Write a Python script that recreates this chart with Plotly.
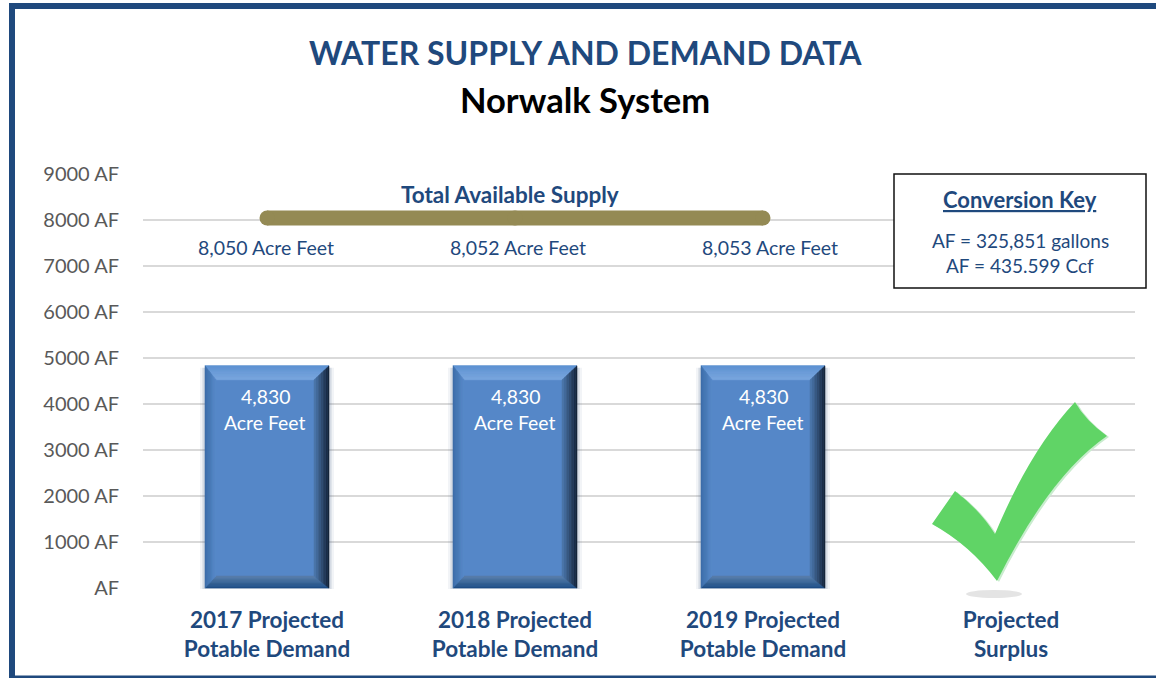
import plotly.graph_objects as go

categories = ["2017 Projected<br>Potable Demand", "2018 Projected<br>Potable Demand",
              "2019 Projected<br>Potable Demand", "Projected<br>Surplus"]
demand = [4830, 4830, 4830, None]
demand_labels = ["4,830<br>Acre Feet", "4,830<br>Acre Feet", "4,830<br>Acre Feet", ""]
supply = [8043, 8043, 8043]
supply_labels = ["8,050 Acre Feet", "8,052 Acre Feet", "8,053 Acre Feet"]
tick_values = [0, 1000, 2000, 3000, 4000, 5000, 6000, 7000, 8000, 9000]
tick_labels = ["AF", "1000 AF", "2000 AF", "3000 AF", "4000 AF", "5000 AF",
               "6000 AF", "7000 AF", "8000 AF", "9000 AF"]

W, H = 1156, 678
L, R, T, B = 143, 1135, 174, 588
FONT = "Lato"
NAVY = "#1f497d"


def pxx(x):
    return (x - L) / (R - L)


def pxy(y):
    return 1 - (y - T) / (B - T)


def mix(a, b, t):
    a = [int(a[i:i + 2], 16) for i in (1, 3, 5)]
    b = [int(b[i:i + 2], 16) for i in (1, 3, 5)]
    return "#%02x%02x%02x" % tuple(round(p + (q - p) * t) for p, q in zip(a, b))


def poly(points, color):
    d = "M" + " L".join(f"{pxx(x):.5f},{pxy(y):.5f}" for x, y in points) + " Z"
    return dict(type="path", xref="paper", yref="paper", path=d, fillcolor=color,
                line=dict(width=0.5, color=color), layer="above")


shapes = []
unit_x = (R - L) / len(categories)
unit_y = (B - T) / 9000
for i, v in enumerate(demand):
    if v is None:
        continue
    cx = L + unit_x * (i + 0.5)
    x0, x1 = cx - 62, cx + 62
    y0, y1 = B - v * unit_y, B
    # soft side shadow
    for grow, alpha in ((5, 0.07), (3, 0.10), (1.5, 0.14)):
        shapes.append(dict(type="rect", xref="paper", yref="paper", x0=pxx(x0 - grow), x1=pxx(x1 + grow),
                           y0=pxy(y1 + 1), y1=pxy(y0 + 2), fillcolor=f"rgba(70,100,140,{alpha})",
                           line=dict(width=0), layer="above"))
    shapes.append(dict(type="rect", xref="paper", yref="paper", x0=pxx(x0), x1=pxx(x1),
                       y0=pxy(y1), y1=pxy(y0), fillcolor="#5587c8",
                       line=dict(width=0), layer="above"))
    n = 9
    li, ri, ti, bi = 11, 15, 14, 12
    sides = {
        "top": ("#5f93d3", "#7ea9e0"),
        "left": ("#3d6ea8", "#5a8ccc"),
        "right": ("#15243a", "#527fb6"),
        "bot": ("#1f4f86", "#5f83ad"),
    }
    for k in range(n):
        a, b = k / n, (k + 1) / n
        o = (x0 + li * a, y0 + ti * a, x1 - ri * a, y1 - bi * a)
        m = (x0 + li * b, y0 + ti * b, x1 - ri * b, y1 - bi * b)
        shapes.append(poly([(o[0], o[1]), (o[2], o[1]), (m[2], m[1]), (m[0], m[1])],
                           mix(*sides["top"], a)))
        shapes.append(poly([(o[0], o[3]), (o[2], o[3]), (m[2], m[3]), (m[0], m[3])],
                           mix(*sides["bot"], a)))
        shapes.append(poly([(o[0], o[1]), (m[0], m[1]), (m[0], m[3]), (o[0], o[3])],
                           mix(*sides["left"], a)))
        shapes.append(poly([(o[2], o[1]), (m[2], m[1]), (m[2], m[3]), (o[2], o[3])],
                           mix(*sides["right"], a)))


def check(dx=0, dy=0):
    pts = [(932, 524), (955, 491), (980, 510), (995, 534), (1030, 450), (1075, 402),
           (1085, 420), (1107, 436), (1050, 475), (997, 581), (970, 545), (932, 524)]
    p = [f"{pxx(x + dx):.5f},{pxy(y + dy):.5f}" for x, y in pts]
    return (f"M{p[0]} L{p[1]} Q{p[2]} {p[3]} Q{p[4]} {p[5]} Q{p[6]} {p[7]} "
            f"Q{p[8]} {p[9]} Q{p[10]} {p[11]} Z")


shapes += [
    dict(type="circle", xref="paper", yref="paper", x0=pxx(966), x1=pxx(1022),
         y0=pxy(598), y1=pxy(590), fillcolor="#e4e4e4", line=dict(width=0), layer="above"),
    dict(type="path", xref="paper", yref="paper", path=check(2, 1), fillcolor="#c9ecce",
         line=dict(width=0), layer="above"),
    dict(type="path", xref="paper", yref="paper", path=check(), fillcolor="#60d466",
         line=dict(width=0), layer="above"),
    # key box
    dict(type="rect", xref="paper", yref="paper", x0=pxx(894), x1=pxx(1146), y0=pxy(288), y1=pxy(174),
         fillcolor="white", line=dict(color="#111111", width=1.5), layer="above"),
    # outer frame
    dict(type="path", xref="paper", yref="paper",
         path=f"M{pxx(12)},{pxy(680)} L{pxx(12)},{pxy(6)} L{pxx(1160)},{pxy(6)}",
         line=dict(color=NAVY, width=6), layer="above"),
    dict(type="line", xref="paper", yref="paper", x0=pxx(9), x1=pxx(1160), y0=pxy(677), y1=pxy(677),
         line=dict(color=NAVY, width=3), layer="above"),
]


def note(x, y, text, size, color=NAVY, bold=False):
    if bold:
        text = f"<b>{text}</b>"
    return dict(xref="paper", yref="paper", x=pxx(x), y=pxy(y), text=text, showarrow=False,
                xanchor="center", yanchor="middle", align="center",
                font=dict(family=FONT, size=size, color=color))


annotations = [
    note(585, 52, "WATER SUPPLY AND DEMAND DATA", 32, bold=True),
    note(585, 99, "Norwalk System", 34.5, color="#000000", bold=True),
    note(510, 194, "Total Available Supply", 22.5, bold=True),
    note(1020, 199, "<u>Conversion Key</u>", 22, bold=True),
    note(1020, 240, "AF = 325,851 gallons", 19),
    note(1020, 265, "AF = 435.599 Ccf", 19),
]
for i, (lab, xp) in enumerate(zip(supply_labels, (266, 518, 770))):
    annotations.append(note(xp, 247, lab, 19.5))

fig = go.Figure()
fig.add_trace(go.Bar(x=categories, y=demand, width=0.5, marker=dict(color="#5587c8", line=dict(width=0)),
                     text=demand_labels, textposition="none", hoverinfo="skip", showlegend=False))
fig.add_trace(go.Scatter(x=categories[:3], y=supply, mode="lines+markers",
                         line=dict(color="#948a54", width=15),
                         marker=dict(color="#948a54", size=15), showlegend=False, hoverinfo="skip"))
for cat, v, lab, sh in zip(categories, demand, demand_labels, (-2, 0, 0, 0)):
    if v is None:
        continue
    a, b = lab.split("<br>")
    for txt, off in ((a, 396), (b, 422)):
        annotations.append(dict(x=cat, xref="x", y=pxy(off), yref="paper", text=txt, showarrow=False,
                                xanchor="center", yanchor="middle", xshift=sh,
                                font=dict(family=FONT, size=19.4, color="white")))

fig.update_layout(
    width=W, height=H, autosize=False,
    margin=dict(l=L, r=W - R, t=T, b=H - B, pad=0),
    paper_bgcolor="white", plot_bgcolor="white",
    bargap=0.5, showlegend=False, shapes=shapes, annotations=annotations,
    xaxis=dict(type="category", range=[-0.5, 3.5], tickmode="array", tickvals=categories, ticktext=categories,
               showgrid=False, zeroline=False, showline=False, ticks="",
               tickfont=dict(family=FONT, size=22.5, color=NAVY, weight="bold"), ticklabelstandoff=16),
    yaxis=dict(range=[0, 9000], tickmode="array", tickvals=tick_values, ticktext=tick_labels,
               showgrid=True, gridcolor="#d9d9d9", gridwidth=2, zeroline=False, showline=False,
               ticks="", ticklabelstandoff=23,
               tickfont=dict(family=FONT, size=20, color="#595959")),
)
fig.write_html("out.html", config={"displayModeBar": False},
               post_script="document.body.style.margin='0';document.documentElement.style.overflow='hidden';")
